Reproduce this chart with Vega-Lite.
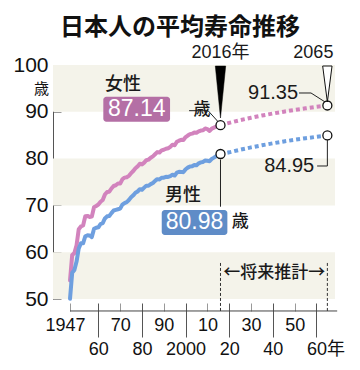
{
  "$schema": "https://vega.github.io/schema/vega-lite/v6.json",
  "width": 282,
  "height": 234,
  "autosize": "none",
  "padding": {"left": 53, "top": 65, "right": 25, "bottom": 71},
  "background": "white",
  "config": {"view": {"stroke": null}, "text": {"color": "#1a1a1a"}},
  "title": {"text": "日本人の平均寿命推移", "font": "Noto Sans CJK JP", "fontSize": 24, "fontWeight": "bold", "anchor": "middle", "dx": -14, "offset": 4, "color": "#111"},
  "datasets": {
    "actual": [
      {"year":1947,"f":53.96,"m":50.06},{"year":1948,"f":59.40,"m":55.60},{"year":1949,"f":59.80,"m":56.20},
      {"year":1950,"f":61.50,"m":58.00},{"year":1951,"f":64.90,"m":60.80},{"year":1952,"f":65.50,"m":61.90},
      {"year":1953,"f":65.70,"m":61.90},{"year":1954,"f":67.69,"m":63.41},{"year":1955,"f":67.75,"m":63.60},
      {"year":1956,"f":67.54,"m":63.59},{"year":1957,"f":67.60,"m":63.24},{"year":1958,"f":69.61,"m":64.98},
      {"year":1959,"f":69.88,"m":65.21},{"year":1960,"f":70.19,"m":65.32},{"year":1961,"f":70.79,"m":66.03},
      {"year":1962,"f":71.16,"m":66.23},{"year":1963,"f":72.34,"m":67.21},{"year":1964,"f":72.87,"m":67.67},
      {"year":1965,"f":72.92,"m":67.74},{"year":1966,"f":73.61,"m":68.35},{"year":1967,"f":74.15,"m":68.91},
      {"year":1968,"f":74.30,"m":69.05},{"year":1969,"f":74.67,"m":69.18},{"year":1970,"f":74.66,"m":69.31},
      {"year":1971,"f":75.58,"m":70.17},{"year":1972,"f":75.94,"m":70.50},{"year":1973,"f":76.02,"m":70.70},
      {"year":1974,"f":76.31,"m":71.16},{"year":1975,"f":76.89,"m":71.73},{"year":1976,"f":77.35,"m":72.15},
      {"year":1977,"f":77.95,"m":72.69},{"year":1978,"f":78.33,"m":72.97},{"year":1979,"f":78.89,"m":73.46},
      {"year":1980,"f":78.76,"m":73.35},{"year":1981,"f":79.13,"m":73.79},{"year":1982,"f":79.66,"m":74.22},
      {"year":1983,"f":79.78,"m":74.20},{"year":1984,"f":80.18,"m":74.54},{"year":1985,"f":80.48,"m":74.78},
      {"year":1986,"f":80.93,"m":75.23},{"year":1987,"f":81.39,"m":75.61},{"year":1988,"f":81.30,"m":75.54},
      {"year":1989,"f":81.77,"m":75.91},{"year":1990,"f":81.90,"m":75.92},{"year":1991,"f":82.11,"m":76.11},
      {"year":1992,"f":82.22,"m":76.09},{"year":1993,"f":82.51,"m":76.25},{"year":1994,"f":82.98,"m":76.57},
      {"year":1995,"f":82.85,"m":76.38},{"year":1996,"f":83.59,"m":77.01},{"year":1997,"f":83.82,"m":77.19},
      {"year":1998,"f":84.01,"m":77.16},{"year":1999,"f":83.99,"m":77.10},{"year":2000,"f":84.60,"m":77.72},
      {"year":2001,"f":84.93,"m":78.07},{"year":2002,"f":85.23,"m":78.32},{"year":2003,"f":85.33,"m":78.36},
      {"year":2004,"f":85.59,"m":78.64},{"year":2005,"f":85.52,"m":78.56},{"year":2006,"f":85.81,"m":79.00},
      {"year":2007,"f":85.99,"m":79.19},{"year":2008,"f":86.05,"m":79.29},{"year":2009,"f":86.44,"m":79.59},
      {"year":2010,"f":86.30,"m":79.55},{"year":2011,"f":85.90,"m":79.44},{"year":2012,"f":86.41,"m":79.94},
      {"year":2013,"f":86.61,"m":80.21},{"year":2014,"f":86.83,"m":80.50},{"year":2015,"f":87.05,"m":80.75},
      {"year":2016,"f":87.14,"m":80.98}
    ],
    "proj": [
      {"year":2016,"f":87.14,"m":80.98},{"year":2020,"f":87.64,"m":81.34},{"year":2025,"f":88.21,"m":81.89},
      {"year":2030,"f":88.73,"m":82.39},{"year":2035,"f":89.20,"m":82.84},{"year":2040,"f":89.63,"m":83.27},
      {"year":2045,"f":90.03,"m":83.66},{"year":2050,"f":90.40,"m":84.02},{"year":2055,"f":90.74,"m":84.35},
      {"year":2060,"f":91.06,"m":84.66},{"year":2065,"f":91.35,"m":84.95}
    ],
    "bands": [{"lo":50,"hi":60},{"lo":70,"hi":80},{"lo":90,"hi":100}]
  },
  "resolve": {"axis": {"x": "independent"}},
  "layer": [
    {
      "layer": [
        {
          "data": {"name": "bands"},
          "mark": {"type": "rect", "color": "#f4f3ea"},
          "encoding": {
            "x": {"datum": 1939.2, "type": "quantitative", "scale": {"domain": [1939.2, 2068.5], "nice": false, "zero": false}},
            "x2": {"datum": 2068.5},
            "y": {"field": "lo", "type": "quantitative", "scale": {"domain": [50, 100], "nice": false, "zero": false}},
            "y2": {"field": "hi"}
          }
        },
        {
          "data": {"values": [{}]},
          "mark": {"type": "rule", "color": "#444", "strokeWidth": 1},
          "encoding": {"x": {"datum": 1947}, "x2": {"datum": 2069.5}, "y": {"datum": 47.44}}
        },
        {
          "data": {"values": [{"year": 2016}, {"year": 2065}]},
          "mark": {"type": "rule", "color": "#333", "strokeWidth": 1, "strokeDash": [3, 2]},
          "encoding": {"x": {"field": "year", "type": "quantitative"}, "y": {"datum": 57.7}, "y2": {"datum": 47.44}}
        },
        {
          "data": {"values": [{"t": "←将来推計→"}]},
          "mark": {"type": "text", "font": "Noto Sans CJK JP", "fontSize": 17, "fontWeight": 500, "align": "center", "baseline": "middle"},
          "encoding": {"x": {"datum": 2040.7}, "y": {"datum": 55.6}, "text": {"field": "t"}}
        },
        {
          "data": {"name": "actual"},
          "transform": [{"fold": ["f", "m"], "as": ["sex", "v"]}],
          "mark": {"type": "line", "strokeWidth": 4, "strokeCap": "round", "strokeJoin": "round"},
          "encoding": {
            "x": {"field": "year", "type": "quantitative",
              "axis": {
                "orient": "bottom",
                "values": [1947,1970,1990,2010,2030,2050],
                "format": "d",
                "labelExpr": "datum.value == 1947 ? datum.label : substring(datum.label, 2)",
                "domain": false, "grid": false, "offset": 4, "title": null,
                "tickSize": 8, "tickColor": "#999",
                "labelPadding": 5,
                "labelBaseline": "top",
                "labelFont": "Liberation Sans", "labelFontSize": 18, "labelColor": "#111",
                "labelOffset": {"condition": {"test": "datum.value == 1947", "value": -5}, "value": 0},
                "labelOverlap": false, "labelFlush": false, "labelBound": false
              }
            },
            "y": {"field": "v", "type": "quantitative",
              "axis": {
                "values": [50,60,70,80,90,100], "grid": false,
                "domainColor": "#555", "tickColor": "#999", "tickSize": -8,
                "labelFont": "Liberation Sans", "labelFontSize": 21, "labelColor": "#111", "labelPadding": 13,
                "title": "歳", "titleAngle": 0, "titleFont": "Noto Sans CJK JP", "titleFontSize": 15, "titleFontWeight": "normal",
                "titleX": -12, "titleY": 23, "titleAlign": "center", "titleBaseline": "middle", "titleColor": "#111"
              }
            },
            "color": {"field": "sex", "type": "nominal", "scale": {"domain": ["f", "m"], "range": ["#d283bd", "#6e9fdf"]}, "legend": null}
          }
        },
        {
          "data": {"name": "proj"},
          "transform": [{"fold": ["f", "m"], "as": ["sex", "v"]}],
          "mark": {"type": "line", "strokeWidth": 4, "strokeCap": "butt", "strokeDash": [4, 3]},
          "encoding": {
            "x": {"field": "year", "type": "quantitative"},
            "y": {"field": "v", "type": "quantitative"},
            "color": {"field": "sex", "type": "nominal", "legend": null}
          }
        },
        {"data": {"values": [{}]}, "mark": {"type": "rule", "color": "#222", "strokeWidth": 1},
         "encoding": {"x": {"datum": 2001.6}, "x2": {"datum": 2010.3}, "y": {"datum": 90.24}}},
        {"data": {"values": [{}]}, "mark": {"type": "rule", "color": "#222", "strokeWidth": 1},
         "encoding": {"x": {"datum": 2010.3}, "x2": {"datum": 2014.9}, "y": {"datum": 90.24}, "y2": {"datum": 87.88}}},
        {"data": {"values": [{}]}, "mark": {"type": "rule", "color": "#222", "strokeWidth": 1},
         "encoding": {"x": {"datum": 2052.0}, "x2": {"datum": 2057.5}, "y": {"datum": 94.02}}},
        {"data": {"values": [{}]}, "mark": {"type": "rule", "color": "#222", "strokeWidth": 1},
         "encoding": {"x": {"datum": 2057.5}, "x2": {"datum": 2064.0}, "y": {"datum": 94.02}, "y2": {"datum": 92.09}}},
        {"data": {"values": [{}]}, "mark": {"type": "rule", "color": "#222", "strokeWidth": 1},
         "encoding": {"x": {"datum": 2016}, "y": {"datum": 79.8}, "y2": {"datum": 69.72}}},
        {"data": {"values": [{}]}, "mark": {"type": "rule", "color": "#222", "strokeWidth": 1},
         "encoding": {"x": {"datum": 2065}, "y": {"datum": 83.97}, "y2": {"datum": 78.42}}},
        {"data": {"values": [{}]}, "mark": {"type": "rule", "color": "#222", "strokeWidth": 1},
         "encoding": {"x": {"datum": 2060.3}, "x2": {"datum": 2065}, "y": {"datum": 78.42}}},
        {
          "data": {"name": "proj"},
          "transform": [{"fold": ["f", "m"], "as": ["sex", "v"]}, {"filter": "datum.year == 2016 || datum.year == 2065"}],
          "mark": {"type": "point", "shape": "circle", "filled": true, "fill": "white", "stroke": "#111", "strokeWidth": 1.3, "size": 81, "opacity": 1},
          "encoding": {"x": {"field": "year", "type": "quantitative"}, "y": {"field": "v", "type": "quantitative"}}
        },
        {
          "data": {"values": [{}]},
          "mark": {"type": "point", "shape": "M-0.2,-1L0.2,-1L0,1Z", "filled": true, "fill": "#000", "stroke": "#000", "strokeWidth": 0.5, "size": 2704, "opacity": 1},
          "encoding": {"x": {"datum": 2016}, "y": {"datum": 94.23}}
        },
        {
          "data": {"values": [{}]},
          "mark": {"type": "point", "shape": "M-0.26,-1L0.26,-1L0,1Z", "filled": true, "fill": "white", "stroke": "#111", "strokeWidth": 1, "size": 1296, "opacity": 1},
          "encoding": {"x": {"datum": 2065}, "y": {"datum": 95.94}}
        },
        {
          "data": {"values": [{"t": "2016年"}]},
          "mark": {"type": "text", "font": "Liberation Sans, Noto Sans CJK JP", "fontSize": 18, "align": "center", "baseline": "middle"},
          "encoding": {"x": {"datum": 2016}, "y": {"datum": 102.56}, "text": {"field": "t"}}
        },
        {
          "data": {"values": [{"t": "2065"}]},
          "mark": {"type": "text", "font": "Liberation Sans", "fontSize": 18, "align": "center", "baseline": "middle", "dx": -14},
          "encoding": {"x": {"datum": 2065}, "y": {"datum": 102.56}, "text": {"field": "t"}}
        },
        {
          "data": {"values": [{"t": "女性"}]},
          "mark": {"type": "text", "font": "Noto Sans CJK JP", "fontSize": 18, "fontWeight": 500, "align": "center", "baseline": "middle"},
          "encoding": {"x": {"datum": 1971.3}, "y": {"datum": 95.73}, "text": {"field": "t"}}
        },
        {
          "data": {"values": [{}]},
          "mark": {"type": "rect", "color": "#b46fa5", "cornerRadius": 3},
          "encoding": {"x": {"datum": 1962.27}, "x2": {"datum": 1992.87}, "y": {"datum": 93.23}, "y2": {"datum": 87.88}}
        },
        {
          "data": {"values": [{"t": "87.14"}]},
          "mark": {"type": "text", "font": "Liberation Sans", "fontSize": 23, "align": "center", "baseline": "middle", "color": "white"},
          "encoding": {"x": {"datum": 1977.6}, "y": {"datum": 90.5}, "text": {"field": "t"}}
        },
        {
          "data": {"values": [{"t": "歳"}]},
          "mark": {"type": "text", "font": "Noto Sans CJK JP", "fontSize": 17, "fontWeight": 500, "align": "center", "baseline": "middle"},
          "encoding": {"x": {"datum": 2007.5}, "y": {"datum": 90.38}, "text": {"field": "t"}}
        },
        {
          "data": {"values": [{"t": "男性"}]},
          "mark": {"type": "text", "font": "Noto Sans CJK JP", "fontSize": 18, "fontWeight": 500, "align": "center", "baseline": "middle"},
          "encoding": {"x": {"datum": 1998.8}, "y": {"datum": 72.0}, "text": {"field": "t"}}
        },
        {
          "data": {"values": [{}]},
          "mark": {"type": "rect", "color": "#5f8cc7", "cornerRadius": 3},
          "encoding": {"x": {"datum": 1989.06}, "x2": {"datum": 2019.15}, "y": {"datum": 69.02}, "y2": {"datum": 63.68}}
        },
        {
          "data": {"values": [{"t": "80.98"}]},
          "mark": {"type": "text", "font": "Liberation Sans", "fontSize": 23, "align": "center", "baseline": "middle", "color": "white"},
          "encoding": {"x": {"datum": 2004.1}, "y": {"datum": 66.35}, "text": {"field": "t"}}
        },
        {
          "data": {"values": [{"t": "歳"}]},
          "mark": {"type": "text", "font": "Noto Sans CJK JP", "fontSize": 17, "fontWeight": 500, "align": "center", "baseline": "middle"},
          "encoding": {"x": {"datum": 2025.0}, "y": {"datum": 66.45}, "text": {"field": "t"}}
        },
        {
          "data": {"values": [{"t": "91.35"}]},
          "mark": {"type": "text", "font": "Liberation Sans", "fontSize": 20, "align": "center", "baseline": "middle"},
          "encoding": {"x": {"datum": 2040.1}, "y": {"datum": 94.02}, "text": {"field": "t"}}
        },
        {
          "data": {"values": [{"t": "84.95"}]},
          "mark": {"type": "text", "font": "Liberation Sans", "fontSize": 20, "align": "center", "baseline": "middle"},
          "encoding": {"x": {"datum": 2047.5}, "y": {"datum": 78.42}, "text": {"field": "t"}}
        }
      ]
    },
    {
      "data": {"values": [{"year": 1960}]},
      "mark": {"type": "rule", "strokeOpacity": 0},
      "encoding": {
        "x": {"field": "year", "type": "quantitative",
          "axis": {
            "orient": "bottom",
            "values": [1960,1980,2000,2020,2040,2060],
            "format": "d",
            "labelExpr": "datum.value == 2000 ? datum.label : datum.value == 2060 ? '60年' : substring(datum.label, 2)",
            "domain": false, "grid": false, "offset": 4, "title": null,
            "tickSize": 34, "tickColor": "#555",
            "labelPadding": 3,
            "labelBaseline": "top",
            "labelFont": "Liberation Sans, Noto Sans CJK JP", "labelFontSize": 18, "labelColor": "#111",
            "labelAlign": {"condition": {"test": "datum.value == 2060", "value": "left"}, "value": "center"},
            "labelOffset": {"condition": {"test": "datum.value == 2060", "value": -10}, "value": 0},
            "labelOverlap": false, "labelFlush": false, "labelBound": false
          }
        }
      }
    }
  ]
}
